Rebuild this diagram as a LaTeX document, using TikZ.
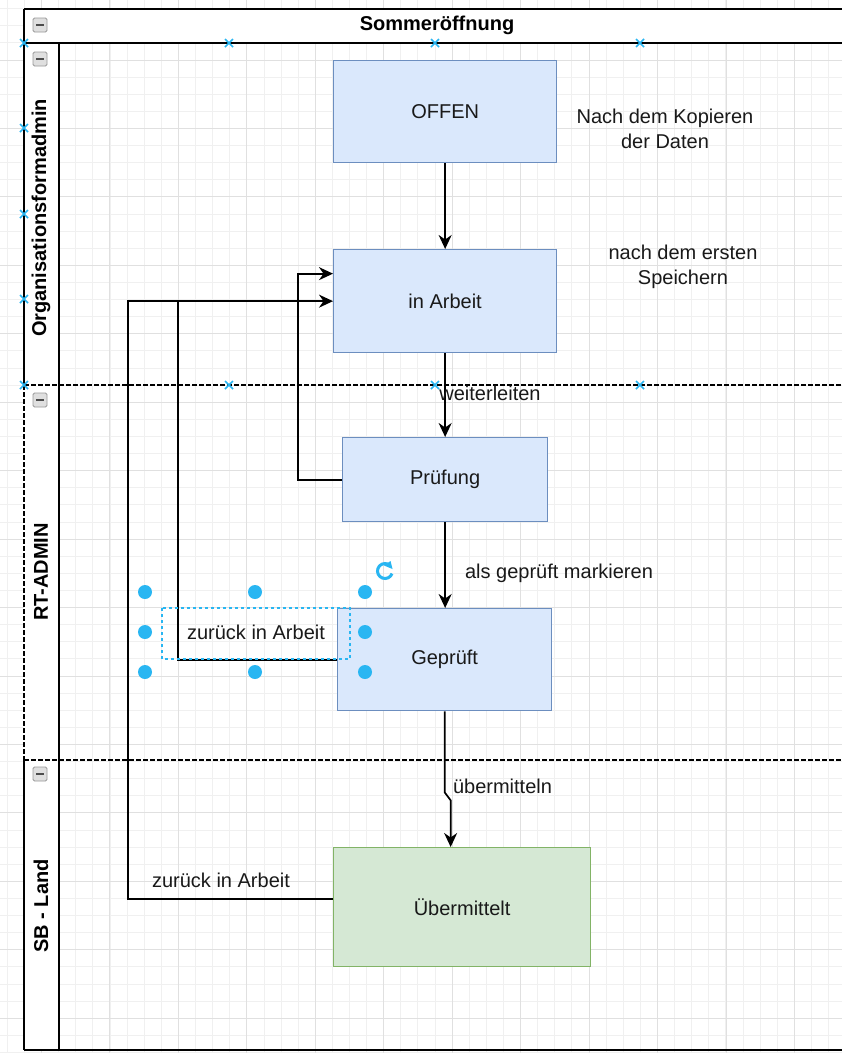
\documentclass[tikz,border=0pt]{standalone}
\usepackage{fontspec}
\setmainfont{Liberation Sans}
\usetikzlibrary{arrows.meta,calc}
\definecolor{bfill}{HTML}{DAE8FC}
\definecolor{bline}{HTML}{6C8EBF}
\definecolor{gfill}{HTML}{D5E8D4}
\definecolor{gline}{HTML}{82B366}
\definecolor{sel}{HTML}{29B6F2}
\definecolor{gridminor}{HTML}{F0F0F0}
\definecolor{gridmajor}{HTML}{E0E0E0}
\definecolor{ink}{HTML}{000000}
\begin{document}
\begin{tikzpicture}[x=1pt,y=-1pt,
  txt/.style={font=\fontsize{20}{25}\selectfont, text=black!90, inner sep=0pt, align=center},
  lanetxt/.style={font=\bfseries\fontsize{20}{24}\selectfont, text=black, inner sep=0pt, rotate=90},
  bluebox/.style={draw=bline, fill=bfill, line width=1.3pt, anchor=north west, inner sep=0pt,
     font=\fontsize{20}{24}\selectfont, text=black!90},
  greenbox/.style={bluebox, draw=gline, fill=gfill},
  poolline/.style={draw=black, line width=1.6pt},
  sepline/.style={draw=black, line width=1.6pt, dash pattern=on 4.5pt off 2.5pt},
  conn/.style={draw=ink, line width=1.7pt, -{Stealth[length=14pt,width=13pt,inset=4.5pt]}},
  plain/.style={draw=ink, line width=1.7pt},
  handle/.style={fill=sel, draw=none},
  marker/.style={draw=sel, line width=1.6pt},
  minusbox/.style={draw=gray!80, fill=gray!25, line width=0.8pt, rounded corners=1.5pt}
]
\useasboundingbox (0,0) rectangle (842,1053);
\fill[white] (0,0) rectangle (842,1053);
% grid
\foreach \k in {0,...,49} {
  \pgfmathsetmacro\xx{7.3+17.11*\k}
  \draw[gridminor, line width=0.9pt] (\xx,0) -- (\xx,1053);
}
\foreach \k in {0,...,61} {
  \pgfmathsetmacro\yy{8.67+17.11*\k}
  \draw[gridminor, line width=0.9pt] (0,\yy) -- (842,\yy);
}
\foreach \k in {0,...,11} {
  \pgfmathsetmacro\xx{41.5+68.45*\k}
  \draw[gridmajor, line width=1pt] (\xx,0) -- (\xx,1053);
}
\foreach \k in {0,...,14} {
  \pgfmathsetmacro\yy{60+68.45*\k}
  \draw[gridmajor, line width=1pt] (0,\yy) -- (842,\yy);
}
% pool and lanes
\fill[white] (24,9) rectangle (842,43);
\fill[white] (24,43) rectangle (59,1050);
\draw[poolline] (24,9) -- (842,9);
\draw[poolline] (24,43) -- (842,43);
\draw[poolline] (24,9) -- (24,385);
\draw[sepline] (24,385) -- (24,760);
\draw[poolline] (24,760) -- (24,1050);
\draw[poolline] (59,43) -- (59,1050);
\draw[poolline] (24,1050) -- (842,1050);
\draw[sepline] (24,385) -- (842,385);
\draw[sepline] (24,760) -- (842,760);
% minus icons
\foreach \yy in {25,59,400,774} {
  \draw[minusbox] (33,\yy-7) rectangle (47,\yy+7);
  \draw[draw=black!70, line width=1.6pt] (36,\yy) -- (44,\yy);
}
% titles
\node[font=\bfseries\fontsize{20}{24}\selectfont, inner sep=0pt] (title) at (437,25) {Sommeröffnung};
\node[lanetxt] (lane1) at (41,218) {Organisationsformadmin};
\node[lanetxt] (lane2) at (41,572) {RT-ADMIN};
\node[lanetxt] (lane3) at (41,906) {SB - Land};
% boxes
\node[bluebox, minimum width=223pt, minimum height=102pt] (offen) at (333,60) {OFFEN};
\node[bluebox, minimum width=223pt, minimum height=103pt] (arbeit) at (333,249) {in Arbeit};
\node[bluebox, minimum width=205pt, minimum height=84pt] (pruef) at (342,437) {Prüfung};
\node[bluebox, minimum width=214pt, minimum height=102pt] (gepr) at (337,608) {Geprüft};
\node[greenbox, minimum width=257pt, minimum height=119pt] (uebm) at (333,847) {Übermittelt};
% connectors
\draw[conn] (offen.south) -- (arbeit.north);
\draw[conn] (arbeit.south) -- (pruef.north);
\draw[conn] (pruef.south) -- (pruef.south |- gepr.north);
\draw[conn] (pruef.west) -- ++(-44,0) |- ([yshift=27.5pt]arbeit.west);
\draw[plain] (gepr.west) -- ++(-159,0) -- ++(0,-358.5);
\draw[conn] ([yshift=8.5pt]uebm.west) -- ++(-205,0) |- (arbeit.west);
\draw[conn] (gepr.south) -- ++(0,81) -- ++(6,8) -- ([xshift=-11.5pt]uebm.north);
% labels
\node[txt] (l1) at (665,128.5) {Nach dem Kopieren\\der Daten};
\node[txt] (l2) at (683,266.5) {nach dem ersten\\Speichern};
\node[txt] (l3) at (490,393) {weiterleiten};
\node[txt] (l4) at (559,573) {als geprüft markieren};
\node[txt] (l5) at (256,632) {zurück in Arbeit};
\node[txt] (l6) at (502.5,786) {übermitteln};
\node[txt] (l7) at (221,880) {zurück in Arbeit};
% selection of the label
\draw[draw=sel, line width=1.2pt, dash pattern=on 3pt off 3pt] (162,608) rectangle (350,659);
\foreach \p in {(145,592),(255,592),(365,592),(145,632),(365,632),(145,672),(255,672),(365,672)} {
  \fill[handle] \p circle (7);
}
\draw[draw=sel, line width=3pt] (385,571) ++(20:7.5) arc[start angle=20, end angle=290, radius=7.5];
\fill[sel] (390.5,561) -- (384,565.5) -- (392.5,569) -- cycle;
% lane selection markers
\foreach \p in {(24,43),(229,43),(435,43),(640,43),(24,128),(24,214),(24,299),(24,385),(229,385),(435,385),(640,385)} {
  \draw[marker] \p ++(-4,-4) -- ++(8,8) ++(0,-8) -- ++(-8,8);
}
\end{tikzpicture}
\end{document}
